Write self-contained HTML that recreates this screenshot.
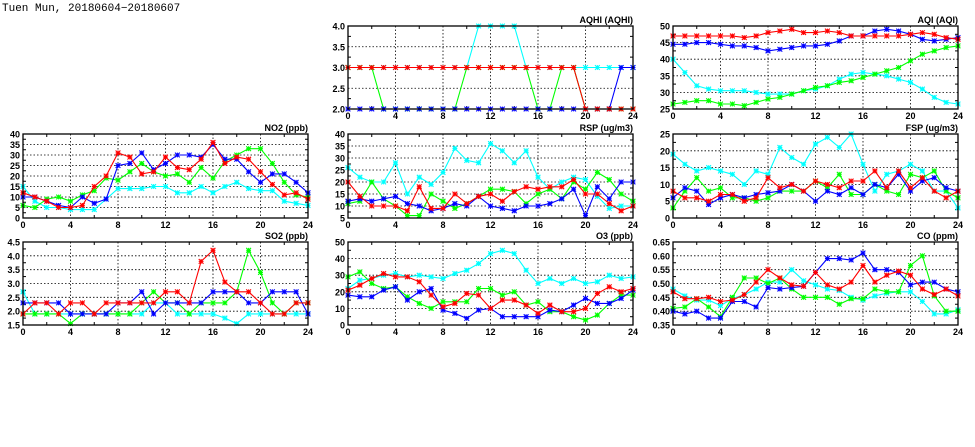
<!DOCTYPE html>
<html><head><meta charset="utf-8"><style>
html,body{margin:0;padding:0;background:#fff;width:975px;height:447px;overflow:hidden}
svg text{font-family:"Liberation Sans",sans-serif;font-weight:bold;font-size:9px;fill:#000}
</style></head><body>
<svg id="c" width="975" height="447" xmlns="http://www.w3.org/2000/svg">
<text x="2" y="11" style="font-size:11px;font-weight:normal;font-family:'Liberation Mono',monospace">Tuen Mun, 20180604−20180607</text>
</svg>
<script>
const hours=[0,1,2,3,4,5,6,7,8,9,10,11,12,13,14,15,16,17,18,19,20,21,22,23,24];
const xTicks=[0,4,8,12,16,20,24];
const seriesNames=['cyan','green','blue','red'];
const seriesColors=['#00ffff','#00ff00','#0000ff','#ff0000'];

const no2Red=[12,10,8,5,5,6,15,20,31,29,21,22,29,24,23,28,36,26,29,28,22,16,11,12,9];
const no2Green=[6,5,9,10,8,11,13,19,18,22,26,22,20,21,17,24,19,27,30,33,33,26,17,11,10];
const no2Blue=[10,10,8,6,5,10,7,9,25,26,31,23,26,30,30,29,35,28,28,22,17,21,21,17,12];
const no2Cyan=[15,8,5,5,4,4,4,9,14,14,14,15,15,12,12,15,12,15,17,14,13,13,8,7,6];
const no2Ticks=[0,5,10,15,20,25,30,35,40];

const so2Red=[1.9,2.3,2.3,1.9,2.3,2.3,1.9,2.3,2.3,2.3,2.3,2.3,2.7,2.7,2.3,3.8,4.2,3.05,2.7,2.7,2.3,1.9,1.9,2.3,2.3];
const so2Green=[1.9,1.9,1.9,1.9,1.55,1.9,1.9,1.9,1.9,1.9,2.3,2.7,2.3,2.3,1.9,2.3,2.3,2.3,2.7,4.2,3.4,2.3,1.9,2.3,2.3];
const so2Blue=[2.3,2.3,2.3,2.3,1.9,1.9,1.9,1.9,2.3,2.3,2.7,1.9,2.3,2.3,2.3,2.3,2.7,2.7,2.7,2.3,2.3,2.7,2.7,2.7,1.9];
const so2Cyan=[2.7,1.9,1.9,1.9,1.9,1.9,1.9,1.9,1.9,1.9,1.9,2.3,2.3,1.9,1.9,1.9,1.9,1.75,1.55,1.9,1.9,1.9,1.9,1.9,1.9];
const so2Ticks=[1.5,2.0,2.5,3.0,3.5,4.0,4.5];

const aqhiRed=[3,3,3,3,3,3,3,3,3,3,3,3,3,3,3,3,3,3,3,3,2,2,2,2,2];
const aqhiGreen=[3,3,3,2,2,2,2,2,2,2,3,3,3,3,3,3,2,2,3,3,2,2,2,2,2];
const aqhiBlue=[2,2,2,2,2,2,2,2,2,2,2,2,2,2,2,2,2,2,2,2,2,2,2,3,3];
const aqhiCyan=[3,3,3,3,3,3,3,3,3,3,3,4,4,4,4,3,3,3,3,3,3,3,3,3,3];
const aqhiTicks=[2.0,2.5,3.0,3.5,4.0];

const aqiRed=[47,47,47,47,47,47,46.5,47,48,48.5,49,48,48,48.5,48,47,47,47,47,47,47.5,48,47.5,46.5,46];
const aqiGreen=[26.5,27,27.5,27.5,26.5,26.5,26,27,28,28.5,29.5,30.5,31.5,32,33,33.5,34.5,35.5,36.5,37.5,39.5,41.5,42.5,43.5,44];
const aqiBlue=[44.5,44.5,45,45,44.5,44,44,43.5,42.5,43,43.5,44,44,44.5,45.5,47,47,48.5,49,48.5,47.5,46,45.5,46,46.5];
const aqiCyan=[40,36,32,31,30.5,30.5,30.5,30,29.5,29.5,29.5,30.5,31,32,34,35.5,36,35.5,35,34,33,31,28.5,27,26.5];
const aqiTicks=[25,30,35,40,45,50];

const rspRed=[20,14,10,10,10,8,18,9,9,15,11,14,15,12,16,18,17,18,18,21,15,15,11,8,10];
const rspGreen=[11,12,20,13,10,6,6,15,12,9,11,14,17,17,16,11,15,17,13,20,17,24,21,15,12];
const rspBlue=[12,13,12,13,14,11,10,8,9,11,10,14,10,9,8,10,10,11,13,17,6,18,13,20,20];
const rspCyan=[26,22,20,20,28,15,22,19,24,34,29,28,36,33,28,33,22,17,20,22,21,14,9,10,10];
const rspTicks=[5,10,15,20,25,30,35,40];

const fspRed=[8,6,6,5,7,7,5,6,12,9,10,8,11,10,9,11,11,14,9,14,9,12,8,6,8];
const fspGreen=[3,8,12,8,9,6,6,5,6,8,8,8,11,9,13,7,7,10,8,7,13,12,14,8,6];
const fspBlue=[6,9,8,4,6,7,6,7,7.5,8,10,8,5,8,7,9,7,10,9,13,8,11,12,9,8];
const fspCyan=[19,16,14,15,14,13,10,14,13,21,18,16,22,24,21,25,16,8,13,14,16,14,8,8,3];
const fspTicks=[0,5,10,15,20,25];

const o3Red=[21,24,28,31,29,29,26,18,11,13,19,18,10,15,15,12,7,12,8,8,10,19,23,20,22];
const o3Green=[29,32,25,22,23,17,13,10,14,14,14,22,22,18,20,12,14,8,8,5,3,6,13,18,18];
const o3Blue=[18,17,17,21,23,15,20,22,9,7,4,9,10,5,5,5,5,9,8,12,16,13,13,16,21];
const o3Cyan=[22,27,28,30,31,29,30,29,28,31,33,37,43,45,43,33,25,28,25,28,25,26,30,28,29];
const o3Ticks=[0,10,20,30,40,50];

const coRed=[.47,.445,.445,.45,.435,.44,.46,.505,.55,.52,.495,.49,.54,.495,.48,.505,.565,.505,.53,.545,.53,.48,.46,.48,.455];
const coGreen=[.41,.415,.445,.415,.38,.45,.52,.52,.5,.52,.48,.45,.45,.45,.425,.445,.445,.48,.47,.47,.565,.6,.455,.40,.40];
const coBlue=[.40,.39,.40,.375,.375,.435,.435,.415,.485,.48,.485,.49,.54,.59,.59,.585,.61,.55,.55,.54,.495,.505,.505,.48,.47];
const coCyan=[.48,.455,.44,.44,.42,.445,.46,.48,.505,.505,.55,.51,.495,.48,.475,.45,.44,.455,.465,.47,.47,.435,.39,.39,.405];
const coTicks=[0.35,0.40,0.45,0.50,0.55,0.60,0.65];

const NS='http://www.w3.org/2000/svg';
const svg=document.getElementById('c');
function mk(tag,attrs,parent){const e=document.createElementNS(NS,tag);for(const k in attrs)e.setAttribute(k,attrs[k]);(parent||svg).appendChild(e);return e;}

function panel(id,title,L,T,ticks,dec,series){
  const W=285,B=(T===26?109:(T===134?218:325)),H=B-T;
  const ymin=ticks[0],ymax=ticks[ticks.length-1];
  const xs=v=>L+v/24*W;
  const ys=v=>B-(v-ymin)/(ymax-ymin)*H;
  const g=mk('g',{});
  
  
  ticks.slice(1,-1).forEach(t=>{const l=mk('line',{x1:L,x2:L+W,y1:ys(t),y2:ys(t),stroke:'#000','stroke-width':0.8,'stroke-dasharray':'1.5,2'},g);
    });
  xTicks.slice(1,-1).forEach(t=>{const l=mk('line',{x1:xs(t),x2:xs(t),y1:T,y2:B,stroke:'#000','stroke-width':0.8,'stroke-dasharray':'1.5,2'},g);
    });
  for(let h=2;h<24;h+=4){mk('line',{x1:xs(h),x2:xs(h),y1:B,y2:B-3,stroke:'#000'},g);mk('line',{x1:xs(h),x2:xs(h),y1:T,y2:T+3,stroke:'#000'},g);}
  for(let i=0;i<ticks.length-1;i++){const m=(ticks[i]+ticks[i+1])/2;mk('line',{x1:L,x2:L+3,y1:ys(m),y2:ys(m),stroke:'#000'},g);mk('line',{x1:L+W,x2:L+W-3,y1:ys(m),y2:ys(m),stroke:'#000'},g);}
  series.forEach((vals,si)=>{
    const col=seriesColors[si];
    const pts=hours.map((h,i)=>xs(h).toFixed(1)+','+ys(vals[i]).toFixed(1)).join(' ');
    const pl=mk('polyline',{points:pts,fill:'none',stroke:col,'stroke-width':1.1},g);
    
    
    hours.forEach((h,i)=>{const x=xs(h),y=ys(vals[i]);const s=2.4;
      const m=mk('path',{d:`M${x-s},${y-s}L${x+s},${y+s}M${x-s},${y+s}L${x+s},${y-s}M${x-s},${y}L${x+s},${y}M${x},${y-s}L${x},${y+s}`,stroke:col,'stroke-width':1.1,fill:'none'},g);
      
      });
  });
  const fr=mk('rect',{x:L,y:T,width:W,height:H,fill:'none',stroke:'#000','stroke-width':1.3},g);
  
  ticks.forEach(t=>{const tx=mk('text',{x:L-3,y:ys(t)+3.5,'text-anchor':'end'},g);tx.textContent=t.toFixed(dec);
    });
  xTicks.forEach(t=>{const tx=mk('text',{x:xs(t),y:B+10,'text-anchor':'middle'},g);tx.textContent=t;
    });
  const ti=mk('text',{x:L+W,y:T-3,'text-anchor':'end','font-size':'8.5'},g);ti.textContent=title;
  
}
panel('aqhi','AQHI (AQHI)',348,26,aqhiTicks,1,[aqhiCyan,aqhiGreen,aqhiBlue,aqhiRed]);
panel('aqi','AQI (AQI)',673,26,aqiTicks,0,[aqiCyan,aqiGreen,aqiBlue,aqiRed]);
panel('no2','NO2 (ppb)',23,134,no2Ticks,0,[no2Cyan,no2Green,no2Blue,no2Red]);
panel('rsp','RSP (ug/m3)',348,134,rspTicks,0,[rspCyan,rspGreen,rspBlue,rspRed]);
panel('fsp','FSP (ug/m3)',673,134,fspTicks,0,[fspCyan,fspGreen,fspBlue,fspRed]);
panel('so2','SO2 (ppb)',23,242,so2Ticks,1,[so2Cyan,so2Green,so2Blue,so2Red]);
panel('o3','O3 (ppb)',348,242,o3Ticks,0,[o3Cyan,o3Green,o3Blue,o3Red]);
panel('co','CO (ppm)',673,242,coTicks,2,[coCyan,coGreen,coBlue,coRed]);
</script>
</body></html>
